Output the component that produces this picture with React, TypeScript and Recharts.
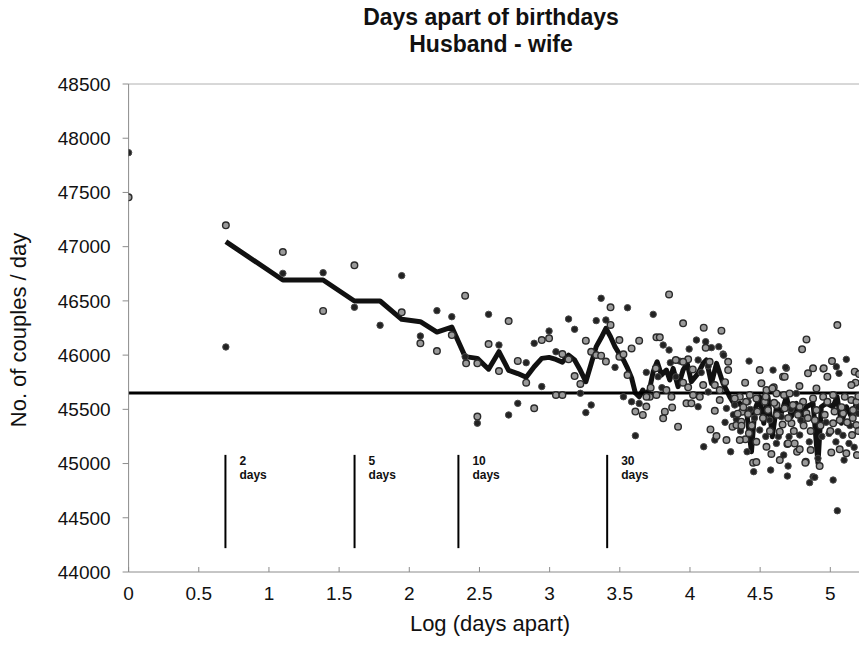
import React from 'react';
import {
  ComposedChart, Scatter, Line, XAxis, YAxis, ReferenceLine,
} from 'recharts';

const FONT = '"Liberation Sans", Arial, sans-serif';
const AXIS = '#8c8c8c';

// x = log(days apart), y = couples / day
const darkPoints: [number, number][] = [
  [0, 47867], [0.693, 46075], [1.099, 46754], [1.386, 46760], [1.609, 46441],
  [1.792, 46275], [1.946, 46733], [2.079, 46176], [2.197, 46410], [2.303, 46354],
  [2.398, 45985], [2.485, 45372], [2.565, 46376], [2.639, 46093], [2.708, 45448],
  [2.773, 45555], [2.833, 45930], [2.890, 46109], [2.944, 45710], [2.996, 46222],
  [3.045, 46031], [3.135, 46333], [3.178, 46238], [3.219, 45648], [3.258, 45470],
  [3.296, 45540], [3.332, 46318], [3.367, 46524], [3.401, 46324], [3.466, 45887],
  [3.526, 45616], [3.555, 46437], [3.584, 45570], [3.611, 45257], [3.638, 45554],
  [3.689, 45841], [3.738, 46376],
  [3.809, 46093], [3.851, 46047], [3.994, 46056], [4.046, 46139], [4.112, 46124],
  [4.205, 46078], [4.236, 46010], [3.927, 45945], [4.058, 45955], [4.421, 45945],
  [5.114, 45961], [4.687, 45878], [4.592, 45862], [5.043, 45893], [3.773, 45801],
  [4.058, 45524], [4.098, 45155], [4.177, 45217], [4.290, 45109], [4.407, 45109],
  [4.454, 44925], [4.575, 44940], [4.616, 45186], [4.699, 44977], [4.694, 44885],
  [4.877, 44879], [4.853, 44824], [4.912, 45048], [5.020, 44848], [5.050, 44565],
  [5.098, 45032], [5.133, 45186], [4.991, 45278], [5.055, 45294], [4.782, 45263],
  [4.806, 45371], [4.706, 45248], [4.651, 45432], [4.568, 45401], [4.497, 45309],
  [4.414, 45570], [4.260, 45509], [4.758, 45647], [5.198, 45463], [4.319, 45540],
  [4.153, 46069], [4.240, 45999], [4.130, 45900], [4.331, 45408], [4.682, 45887],
  [4.948, 45872], [5.062, 45832], [4.668, 45079], [4.889, 44873],
  [4.630, 45250], [4.720, 45500], [4.790, 45400], [4.850, 45200], [4.940, 45250],
  [4.970, 45380], [5.040, 45200], [5.090, 45260], [5.140, 45350], [5.170, 45150],
  [5.200, 45520], [4.540, 45250], [4.460, 45420], [4.430, 45500], [4.360, 45300],
  [4.310, 45450], [4.250, 45380], [3.800, 45700], [3.900, 45800], [4.130, 45660],
  [4.080, 45840], [3.860, 45930],
];

const greyPoints: [number, number][] = [
  [0, 47455], [0.693, 47197], [1.099, 46951], [1.386, 46407], [1.609, 46828],
  [1.946, 46395], [2.079, 46109], [2.197, 46038], [2.303, 46185], [2.398, 46548],
  [2.405, 45924], [2.485, 45924], [2.485, 45433], [2.565, 46102], [2.639, 45853],
  [2.708, 46314], [2.773, 45946], [2.833, 45746], [2.890, 45510], [2.944, 46139],
  [2.996, 46155], [3.045, 45632], [3.091, 46010], [3.091, 45632], [3.135, 45961],
  [3.178, 45807], [3.219, 45734], [3.258, 46133], [3.296, 46031], [3.332, 46001],
  [3.367, 45995], [3.401, 45940], [3.434, 46441], [3.434, 46278], [3.497, 46139],
  [3.497, 45985], [3.526, 46007], [3.555, 45816], [3.584, 46062], [3.611, 45479],
  [3.638, 46133], [3.664, 45448], [3.689, 45525], [3.714, 45616], [3.761, 46164],
  [3.761, 45632],
  [3.851, 46560], [3.951, 46293], [4.098, 46253], [4.224, 46225], [3.785, 46164],
  [4.112, 46068], [3.987, 45961], [3.899, 45955], [4.272, 45939], [4.272, 45862],
  [4.497, 45862], [4.830, 46145], [4.799, 46053], [5.050, 46277], [5.012, 45945],
  [4.877, 45878], [4.841, 45832], [4.663, 45801], [4.597, 45703], [5.174, 45847],
  [5.205, 45825], [5.180, 45746], [5.150, 45724], [4.953, 45878], [4.979, 45801],
  [3.821, 45478], [3.809, 45417], [3.873, 45518], [3.915, 45340], [3.975, 45555],
  [4.010, 45555], [4.070, 45616], [4.094, 45724], [4.146, 45315], [4.189, 45254],
  [4.177, 45487], [4.260, 45217], [4.303, 45340], [4.331, 45355], [4.366, 45386],
  [4.395, 45223], [4.450, 45008], [4.473, 45014], [4.545, 45155], [4.580, 45088],
  [4.640, 45032], [4.694, 45180], [4.746, 45186], [4.763, 45109], [4.782, 45131],
  [4.825, 45017], [4.860, 45125], [4.924, 44977], [5.007, 45103], [5.067, 45131],
  [5.114, 45094], [5.190, 45078], [5.155, 45263], [5.186, 45355], [5.020, 45371],
  [4.723, 45371], [4.640, 45294], [4.556, 45493], [4.473, 45201], [4.371, 45478],
  [4.400, 45570], [4.212, 45586], [4.545, 45678], [4.616, 45647], [4.670, 45632],
  [4.710, 45647], [4.780, 45715], [4.806, 45570], [4.877, 45601], [4.901, 45693],
  [4.949, 45616], [4.979, 45570], [5.020, 45632], [5.103, 45616], [5.150, 45586],
  [5.186, 45570], [5.162, 45493], [5.091, 45463], [5.067, 45401], [4.901, 45493],
  [4.830, 45463], [4.782, 45524], [4.734, 45539], [4.675, 45509], [4.616, 45539],
  [4.533, 45570], [4.473, 45601], [4.355, 45616], [4.319, 45601],
  [4.355, 45217], [4.367, 45349], [4.414, 45457], [4.426, 45632], [4.393, 45746],
  [4.509, 45740], [4.540, 45617], [4.675, 45801], [4.587, 45693], [4.822, 45008],
  [4.699, 45186],
  [4.620, 45450], [4.660, 45360], [4.700, 45420], [4.740, 45300], [4.770, 45450],
  [4.810, 45350], [4.840, 45420], [4.860, 45300], [4.890, 45400], [4.930, 45350],
  [4.960, 45450], [5.000, 45300], [5.030, 45480], [5.080, 45520], [5.120, 45380],
  [5.160, 45420], [5.200, 45300], [5.200, 45620], [4.600, 45560], [4.570, 45300],
  [4.520, 45420], [4.480, 45480], [4.440, 45350], [4.420, 45280], [4.380, 45520],
  [4.340, 45460],
  [3.757, 45878], [3.951, 45939], [4.020, 45868], [4.140, 45939], [4.177, 45724],
  [4.212, 45678], [3.832, 45678], [3.868, 45616], [3.951, 45746], [3.987, 45703],
  [4.022, 45632], [3.690, 45616], [3.720, 45700], [4.250, 45750],
];

const avgLine: [number, number][] = [
  [0.693, 47046], [1.099, 46693], [1.386, 46693], [1.609, 46499], [1.792, 46499],
  [1.946, 46330], [2.079, 46308], [2.197, 46213], [2.303, 46259], [2.398, 45986],
  [2.485, 45970], [2.565, 45870], [2.639, 46031], [2.708, 45860], [2.773, 45830],
  [2.833, 45795], [2.890, 45893], [2.944, 45970], [2.996, 45979], [3.045, 45960],
  [3.091, 45935], [3.135, 46000], [3.178, 45955], [3.219, 45860], [3.258, 45755],
  [3.296, 45920], [3.332, 46078], [3.367, 46160], [3.401, 46247], [3.434, 46170],
  [3.466, 46078], [3.497, 46010], [3.526, 45955], [3.555, 45880], [3.584, 45790],
  [3.611, 45650], [3.638, 45616], [3.664, 45678], [3.689, 45616], [3.714, 45700],
  [3.738, 45847], [3.766, 45939], [3.797, 45816], [3.832, 45862], [3.856, 45770],
  [3.880, 45878], [3.915, 45709], [3.951, 45862], [3.980, 45924], [4.010, 45755],
  [4.058, 45832], [4.094, 45924], [4.117, 45955], [4.153, 45739], [4.189, 45924],
  [4.236, 45739], [4.283, 45616], [4.319, 45540], [4.355, 45555], [4.402, 45494],
  [4.438, 45109], [4.462, 45494], [4.497, 45616], [4.526, 45371], [4.556, 45616],
  [4.587, 45248], [4.616, 45524], [4.651, 45463], [4.687, 45616], [4.723, 45432],
  [4.758, 45555], [4.794, 45432], [4.830, 45524], [4.877, 45555], [4.912, 45002],
  [4.936, 45524], [4.972, 45555], [5.019, 45524], [5.048, 45616], [5.079, 45371],
  [5.114, 45524], [5.150, 45432], [5.186, 45555], [5.210, 45463],
];

const meanLevel = 45650;
const meanEnd = 5.21;

const markers = [
  { x: 0.69, top: '2' },
  { x: 1.61, top: '5' },
  { x: 2.35, top: '10' },
  { x: 3.41, top: '30' },
];
const markerTop = 45080;
const markerBottom = 44220;

const xTicks = [0, 0.5, 1, 1.5, 2, 2.5, 3, 3.5, 4, 4.5, 5];
const yTicks = [44000, 44500, 45000, 45500, 46000, 46500, 47000, 47500, 48000, 48500];

const toPts = (arr: [number, number][]) => arr.map(([x, y]) => ({ x, y }));

const DarkDot = (p: any) => (
  <circle cx={p.cx} cy={p.cy} r={3.2} fill="#222" stroke="#4a4a4a" strokeWidth={1} />
);
const GreyDot = (p: any) => (
  <circle cx={p.cx} cy={p.cy} r={3.3} fill="#9a9a9a" stroke="#2a2a2a" strokeWidth={1.4} />
);

const MarkerLabel = ({ viewBox, text }: any) => {
  const x = viewBox.x + 14;
  const y = viewBox.y;
  return (
    <text x={x} y={y + 10} fontSize={12} fontWeight="bold" fill="#111" fontFamily={FONT}>
      <tspan x={x}>{text}</tspan>
      <tspan x={x} dy={14}>days</tspan>
    </text>
  );
};

export default function App() {
  return (
    <div style={{ position: 'relative', width: 867, height: 645, margin: '-8px 0 0 -8px', background: '#fff', fontFamily: FONT }}>
      <div style={{ position: 'absolute', left: 241, top: 4, width: 500, textAlign: 'center', fontSize: 23, fontWeight: 'bold', lineHeight: '27px', color: '#111' }}>
        Days apart of birthdays<br />Husband - wife
      </div>
      <div style={{ position: 'absolute', left: 340, top: 611, width: 300, textAlign: 'center', fontSize: 22, lineHeight: '26px', color: '#111' }}>
        Log (days apart)
      </div>
      <div style={{ position: 'absolute', left: 19, top: 330, width: 0, height: 0 }}>
        <div style={{ position: 'absolute', left: -150, top: -13, width: 300, textAlign: 'center', fontSize: 22, lineHeight: '26px', color: '#111', transform: 'rotate(-90deg)' }}>
          No. of couples / day
        </div>
      </div>
      <ComposedChart width={867} height={645} margin={{ top: 84, right: 3, bottom: 0, left: 0 }}>
        <XAxis
          type="number" dataKey="x" domain={[0, 5.24]} ticks={xTicks} allowDataOverflow
          height={73} stroke={AXIS} tickSize={-5} tickMargin={20}
          tick={{ fill: '#111', fontSize: 19, fontFamily: FONT }}
        />
        <YAxis
          type="number" dataKey="y" domain={[44000, 48500]} ticks={yTicks} allowDataOverflow
          width={128.6} stroke={AXIS} tickSize={6} tickMargin={12}
          tick={{ fill: '#111', fontSize: 19, fontFamily: FONT }}
        />
        <ReferenceLine y={48500} stroke="#b0b0b0" />
        <ReferenceLine x={5.24} stroke="#b0b0b0" />
        <Line
          data={toPts(avgLine)} dataKey="y" stroke="#111" strokeWidth={5}
          strokeLinejoin="round" dot={false} isAnimationActive={false}
        />
        <Scatter data={toPts(darkPoints)} dataKey="y" shape={DarkDot} isAnimationActive={false} />
        <Scatter data={toPts(greyPoints)} dataKey="y" shape={GreyDot} isAnimationActive={false} />
        <ReferenceLine
          segment={[{ x: 0, y: meanLevel }, { x: meanEnd, y: meanLevel }]}
          stroke="#000" strokeWidth={3}
        />
        {markers.map((m) => (
          <ReferenceLine
            key={m.top}
            segment={[{ x: m.x, y: markerTop }, { x: m.x, y: markerBottom }]}
            stroke="#000" strokeWidth={2}
            label={(props: any) => <MarkerLabel {...props} text={m.top} />}
          />
        ))}
      </ComposedChart>
    </div>
  );
}
